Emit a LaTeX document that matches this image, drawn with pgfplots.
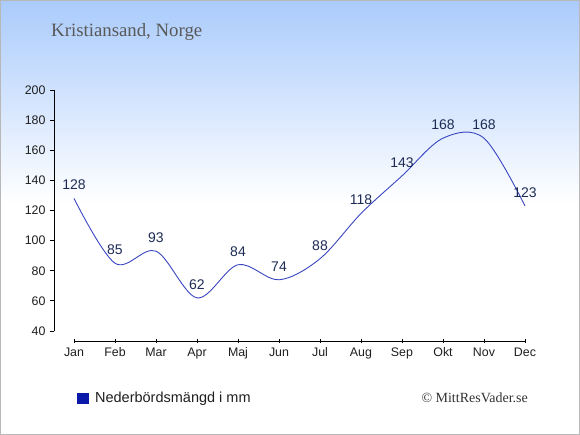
\documentclass[border=0pt]{standalone}
\usepackage{pgfplots}
\pgfplotsset{compat=1.18}
\usepackage{fontspec}
\setmainfont{Liberation Serif}
\newfontfamily\arial{Liberation Sans}
\definecolor{bgtop}{HTML}{AACBFC}
\definecolor{linecol}{HTML}{3A46C0}
\definecolor{labcol}{HTML}{1E2C55}
\definecolor{legblue}{HTML}{0A1AA8}
\begin{document}
\begin{tikzpicture}[x=1pt,y=1pt]
\shade[top color=bgtop, bottom color=white] (0,232) rectangle (580,435);
\fill[white] (0,0) rectangle (580,232.2);
\draw[color=black!28, line width=1pt] (0.5,0.5) rectangle (579.5,434.5);
\node[anchor=base west, text=black!65, font=\fontsize{18.8}{20}\selectfont, inner sep=0] at (51,398) {Kristiansand, Norge};
\node[anchor=east, text=black!80, font=\fontsize{14}{16}\selectfont, inner sep=0] at (528,37) {© MittResVader.se};
\begin{axis}[
  at={(74pt,104pt)}, anchor=south west,
  scale only axis, width=451pt, height=241pt,
  xmin=0, xmax=11, ymin=40, ymax=200,
  axis x line=bottom, axis y line=left,
  axis x line shift=10pt, axis y line shift=20pt,
  axis line style={-, black, line width=0.8pt},
  xtick={0,...,11},
  xticklabels={Jan,Feb,Mar,Apr,Maj,Jun,Jul,Aug,Sep,Okt,Nov,Dec},
  ytick={40,60,...,200},
  major tick length=4pt,
  tick style={black, line width=0.8pt},
  xtick align=center, ytick align=outside,
  tick label style={font=\arial\fontsize{12.4}{14}\selectfont, text=black!88},
  /pgf/number format/assume math mode=true,
  xticklabel style={yshift=-1pt},
  yticklabel style={xshift=-1pt},
  clip=false,
  legend style={at={(0.0067,-0.278)}, anchor=west, draw=none, fill=none, inner sep=0pt,
    font=\arial\fontsize{14.5}{16}\selectfont, text=black!88},
  legend cell align=left,
]
\addplot[linecol, line width=0.9pt, smooth, tension=0.55,
  nodes near coords,
  every node near coord/.append style={anchor=south, inner sep=0pt, yshift=8pt,
    font=\arial\fontsize{14}{16}\selectfont, text=labcol},
  legend image code/.code={\fill[legblue] (0pt,-5pt) rectangle (11pt,5pt);}]
coordinates {(0,128) (1,85) (2,93) (3,62) (4,84) (5,74) (6,88) (7,118) (8,143) (9,168) (10,168) (11,123)};
\addlegendentry{\hspace{4pt}Nederbördsmängd i mm}
\end{axis}
\end{tikzpicture}
\end{document}
